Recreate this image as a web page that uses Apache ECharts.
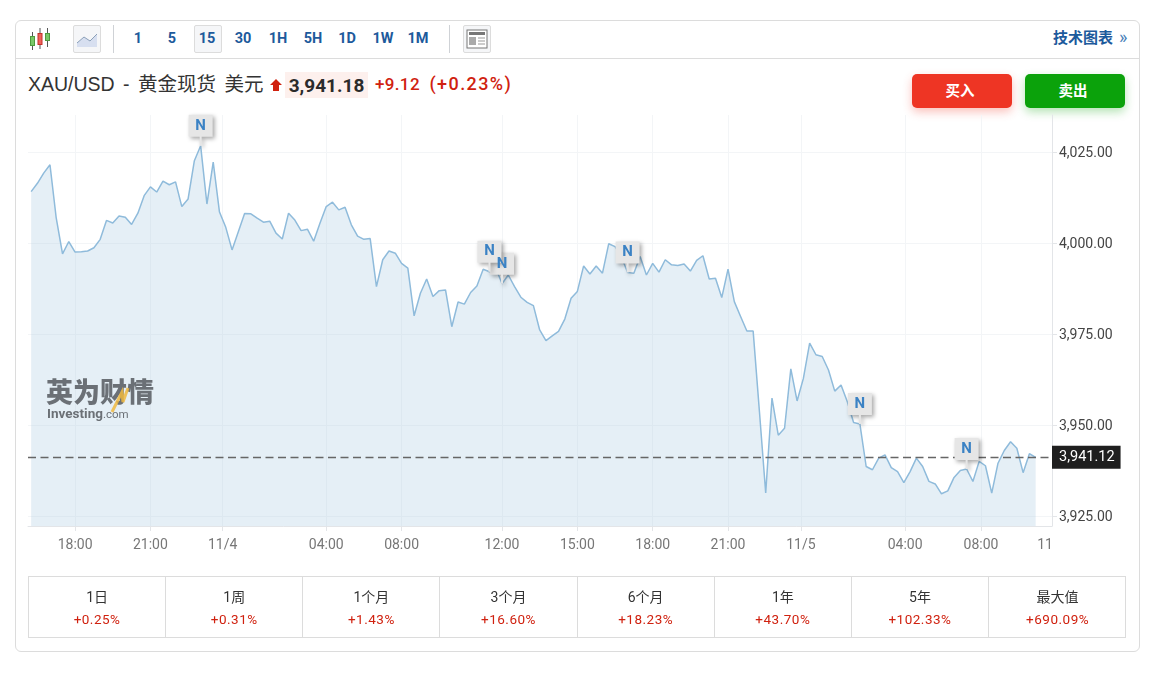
<!DOCTYPE html>
<html><head><meta charset="utf-8">
<script src="https://cdn.jsdelivr.net/npm/echarts@6/dist/echarts.min.js"></script>
<style>
html,body{margin:0;padding:0;background:#fff;width:1160px;height:675px;overflow:hidden;font-family:Roboto,"Noto Sans CJK SC",sans-serif}
.a{position:absolute}
#panel{left:15px;top:20px;width:1123px;height:630px;border:1px solid #dcdcdc;border-radius:6px}
#bar{left:16px;top:58px;width:1123px;height:1px;background:#dcdcdc}
.t{top:29px;width:36px;text-align:center;font-size:14.5px;line-height:20px;font-weight:700;color:#1d5a9c}
.sep{top:25px;width:1px;height:28px;background:#cfd2d6}
.box{top:25px;width:26px;height:26px;border:1px solid #dcdcdc;border-radius:2px;background:#f5f6f8}
#chart{left:0;top:0;width:1160px;height:675px}
.btn{top:74px;width:96px;padding-right:4px;height:34px;border-radius:5px;color:#fff;font-weight:700;font-size:14.5px;line-height:35px;text-align:center}
.cell{top:577px;height:60px;text-align:center;border-right:1px solid #dcdcdc;box-sizing:border-box}
.cell .l{font-size:14px;color:#333;margin-top:10px;line-height:20px}
.cell .v{font-size:13.5px;letter-spacing:.5px;color:#d0210f;margin-top:3px;line-height:18px}
</style></head><body>
<div class="a" id="panel"></div><div class="a" id="bar"></div>
<svg class="a" style="left:28px;top:27px" width="24" height="24" viewBox="0 0 24 24">
<g stroke="#555" stroke-width="1"><path d="M4.5 5V23M12 1V22M19.5 1V20"/></g>
<rect x="2.5" y="9.5" width="4" height="9" fill="#79c768" stroke="#4f9a3f"/><rect x="10" y="6.5" width="4" height="11" fill="#f0615a" stroke="#c4302a"/><rect x="17.5" y="6.5" width="4" height="7" fill="#79c768" stroke="#4f9a3f"/></svg>
<div class="a box" style="left:73px"></div>
<svg class="a" style="left:76px;top:29px" width="22" height="20" viewBox="0 0 22 20"><path d="M1 14L8 8L14 12L21 5V18H1Z" fill="#d7dff0"/><path d="M1 14L8 8L14 12L21 5" fill="none" stroke="#8ba0b8" stroke-width="1"/></svg>
<div class="a sep" style="left:113px"></div><div class="a sep" style="left:449px"></div>
<div class="a box" style="left:194px"></div>
<div class="a box" style="left:463px"></div>
<svg class="a" style="left:466px;top:29px" width="22" height="20" viewBox="0 0 22 20"><rect x="1" y="1" width="20" height="18" fill="#fff" stroke="#777"/><rect x="3" y="3" width="16" height="3" fill="#777"/><rect x="3" y="8" width="7" height="8" fill="#aaa"/><path d="M12 9H19M12 12H19M12 15H19" stroke="#999"/></svg>
<div id="tf"></div>
<div class="a" style="left:1053px;top:28px;font-size:15px;line-height:20px;font-weight:700;color:#1d5a9c">技术图表</div>
<div class="a" style="left:1119px;top:27px;font-size:18px;line-height:20px;color:#4a7fb8">»</div>
<div class="a" style="left:28px;top:71px;font-family:'Liberation Sans','Noto Sans CJK SC',sans-serif;font-size:19.5px;word-spacing:3px;line-height:26px;color:#333;white-space:nowrap">XAU/USD - 黄金现货 美元</div>
<svg class="a" style="left:270px;top:79px" width="12" height="12" viewBox="0 0 12 12"><path d="M6 0L12 6H9V12H3V6H0Z" fill="#d0210f"/></svg>
<div class="a" style="left:285px;top:72px;width:83px;height:26px;background:#fdf0ed;font-size:19px;line-height:27px;font-weight:700;color:#2b2b2b;text-align:center">3,941.18</div>
<div class="a" style="left:375px;top:71px;font-size:17px;letter-spacing:.35px;line-height:26px;font-weight:500;color:#d0210f;white-space:nowrap">+9.12 <span style="margin-left:5px;font-size:18px;letter-spacing:1.4px">(+0.23%)</span></div>
<div class="a btn" style="left:912px;background:#ee3524;box-shadow:0 4px 10px rgba(238,53,36,.3)">买入</div>
<div class="a btn" style="left:1025px;background:#0ba20b;box-shadow:0 4px 10px rgba(11,162,11,.3)">卖出</div>
<div class="a" id="chart"></div>
<div class="a" style="left:46px;top:378px;font-size:27px;line-height:30px;font-weight:900;color:#6b7076;white-space:nowrap;filter:blur(.5px)">英为财情</div>
<svg class="a" style="left:110px;top:386px" width="20" height="28" viewBox="0 0 20 28"><path d="M2 26L12 6L13 16L18 2" fill="none" stroke="#f0b840" stroke-width="3" opacity=".85"/></svg>
<div class="a" style="left:47px;top:405px;font-size:13.5px;line-height:16px;font-weight:700;color:#6b7076;white-space:nowrap;filter:blur(.3px)">Investing<span style="font-weight:400;font-size:11.5px">.com</span></div>
<div class="a" style="left:28px;top:576px;width:1096px;height:60px;border:1px solid #dcdcdc"></div>
<div id="cells"></div>
<script>
// Price, one reading per 15-minute slot
const prices=[4014.1,4016.4,4019.2,4021.5,4006.8,3997.0,4000.4,3997.5,3997.6,3997.8,3998.7,4001.0,4006.2,4005.5,4007.4,4007.1,4005.1,4008.2,4013.0,4015.4,4014.0,4017.0,4016.0,4016.8,4010.0,4012.1,4022.6,4026.7,4010.7,4022.2,4008.5,4004.3,3998.1,4003.1,4008.1,4008.0,4006.8,4005.7,4006.0,4002.7,4001.1,
4008.2,4006.3,4003.4,4003.8,4000.5,4005.4,4010.0,4011.2,4009.1,4009.8,4005.0,4001.9,4001.0,4001.2,3988.0,3995.4,3997.8,3997.2,3994.4,3993.1,3980.0,3986.2,3990.1,3985.3,3986.9,3987.1,3977.0,3983.8,3983.2,3986.4,3988.2,3992.8,3992.1,3993.2,3988.8,3991.2,3988.0,3985.1,3983.7,3982.8,3976.1,3973.2,
3974.5,3975.7,3979.1,3984.8,3986.7,3993.7,3991.5,3993.7,3991.7,3999.8,3999.0,3996.3,3991.9,3991.7,3996.3,3991.2,3994.4,3992.0,3995.4,3994.0,3993.8,3994.2,3992.3,3995.2,3996.5,3990.1,3990.3,3985.0,3992.8,3983.9,3979.8,3975.8,3975.8,3953.7,3931.3,3957.4,3947.2,3949.1,3965.4,3956.6,3962.8,3972.5,
3969.3,3968.8,3965.1,3959.3,3961.0,3956.4,3950.7,3950.3,3938.6,3937.7,3940.9,3941.8,3938.3,3937.2,3934.2,3937.2,3940.9,3938.6,3934.5,3933.8,3931.1,3931.9,3935.6,3937.5,3937.9,3934.5,3940.0,3938.8,3931.3,3939.5,3943.0,3945.4,3943.6,3936.9,3942.1,3941.12];
const timeSlots=[7,19,30.5,47,59,75,87,99,111,122.6,139.2,151.3];
const labelSlots=[7,19,30.5,47,59,75,87,99,111,122.6,139.2,151.3,161.5];
const timeLabels=['18:00','21:00','11/4','04:00','08:00','12:00','15:00','18:00','21:00','11/5','04:00','08:00','11'];
const priceTicks=[3925,3950,3975,4000,4025];
const lastPrice=3941.12;
const newsSlots=[27,75,73,95,132,149];
const frames=['1','5','15','30','1H','5H','1D','1W','1M'];
const frameCentres=[138,172,207,243,278,313,347,383,418];
const periods=['1日','1周','1个月','3个月','6个月','1年','5年','最大值'];
const changes=['+0.25%','+0.31%','+1.43%','+16.60%','+18.23%','+43.70%','+102.33%','+690.09%'];

document.getElementById('tf').innerHTML=frames.map((f,i)=>`<div class="a t" style="left:${frameCentres[i]-18}px">${f}</div>`).join('');
const cw=137.15;
document.getElementById('cells').innerHTML=periods.map((p,i)=>`<div class="a cell" style="left:${29+cw*i}px;width:${cw}px;${i==7?'border-right:0':''}"><div class="l">${p}</div><div class="v">${changes[i]}</div></div>`).join('');

const chart=echarts.init(document.getElementById('chart'),null,{renderer:'canvas'});
const font='Roboto, sans-serif';
chart.setOption({
  animation:false,
  grid:{left:28,right:108,top:115,bottom:149},
  xAxis:{type:'value',min:-0.5,max:162.6,
    axisLine:{show:true,onZero:false,lineStyle:{color:'#e3e5e8'}},
    axisTick:{show:true,length:5,customValues:timeSlots,lineStyle:{color:'#e3e5e8'}},
    axisLabel:{customValues:labelSlots,showMinLabel:true,showMaxLabel:true,hideOverlap:false,color:'#777',fontFamily:font,fontSize:14,margin:12,
      formatter:v=>timeLabels[labelSlots.indexOf(v)]||''},
    splitLine:{show:true,lineStyle:{color:'#f3f5f7',width:1}}},
  yAxis:{type:'value',position:'right',min:3922.25,max:4035.16,scale:true,
    axisLine:{show:true,onZero:false,lineStyle:{color:'#e3e5e8'}},
    axisTick:{show:true,length:5,customValues:priceTicks,lineStyle:{color:'#e3e5e8'}},
    axisLabel:{customValues:priceTicks,margin:7,
      rich:{p:{color:'#444',fontFamily:font,fontSize:14,padding:[3,0,0,0]}},
      formatter:v=>'{p|'+v.toLocaleString('en-US',{minimumFractionDigits:2})+'}'},
    splitLine:{show:true,lineStyle:{color:'#f3f5f7',width:1}}},
  series:[{type:'line',data:prices.map((p,i)=>[i,p]),symbol:'none',smooth:false,
    lineStyle:{color:'#8fbbdb',width:1.5},
    areaStyle:{color:'rgba(176,205,228,0.33)',opacity:1},
    markLine:{silent:true,symbol:'none',animation:false,
      lineStyle:{color:'#666',type:[8,4.5],width:1.3},
      label:{position:'end',distance:0,formatter:()=>lastPrice.toLocaleString('en-US'),
        backgroundColor:'#1f1f1f',color:'#fff',fontFamily:font,fontSize:14.5,padding:[4,6,4,7]},
      data:[{yAxis:lastPrice}]},
    markPoint:{silent:true,animation:false,
      symbol:'path://M0 0H24V22H13V31H11V22H0Z',symbolSize:[24,31],symbolKeepAspect:false,symbolOffset:[0,-15.5],
      itemStyle:{color:'#e6e6e6',shadowColor:'rgba(0,0,0,0.35)',shadowBlur:4,shadowOffsetX:2,shadowOffsetY:2},
      label:{show:true,position:'inside',offset:[0,-4.5],formatter:'N',color:'#3b82c4',fontFamily:font,fontWeight:700,fontSize:15},
      data:newsSlots.map(s=>({coord:[s,prices[s]]}))}
  }]
});
</script>
</body></html>
